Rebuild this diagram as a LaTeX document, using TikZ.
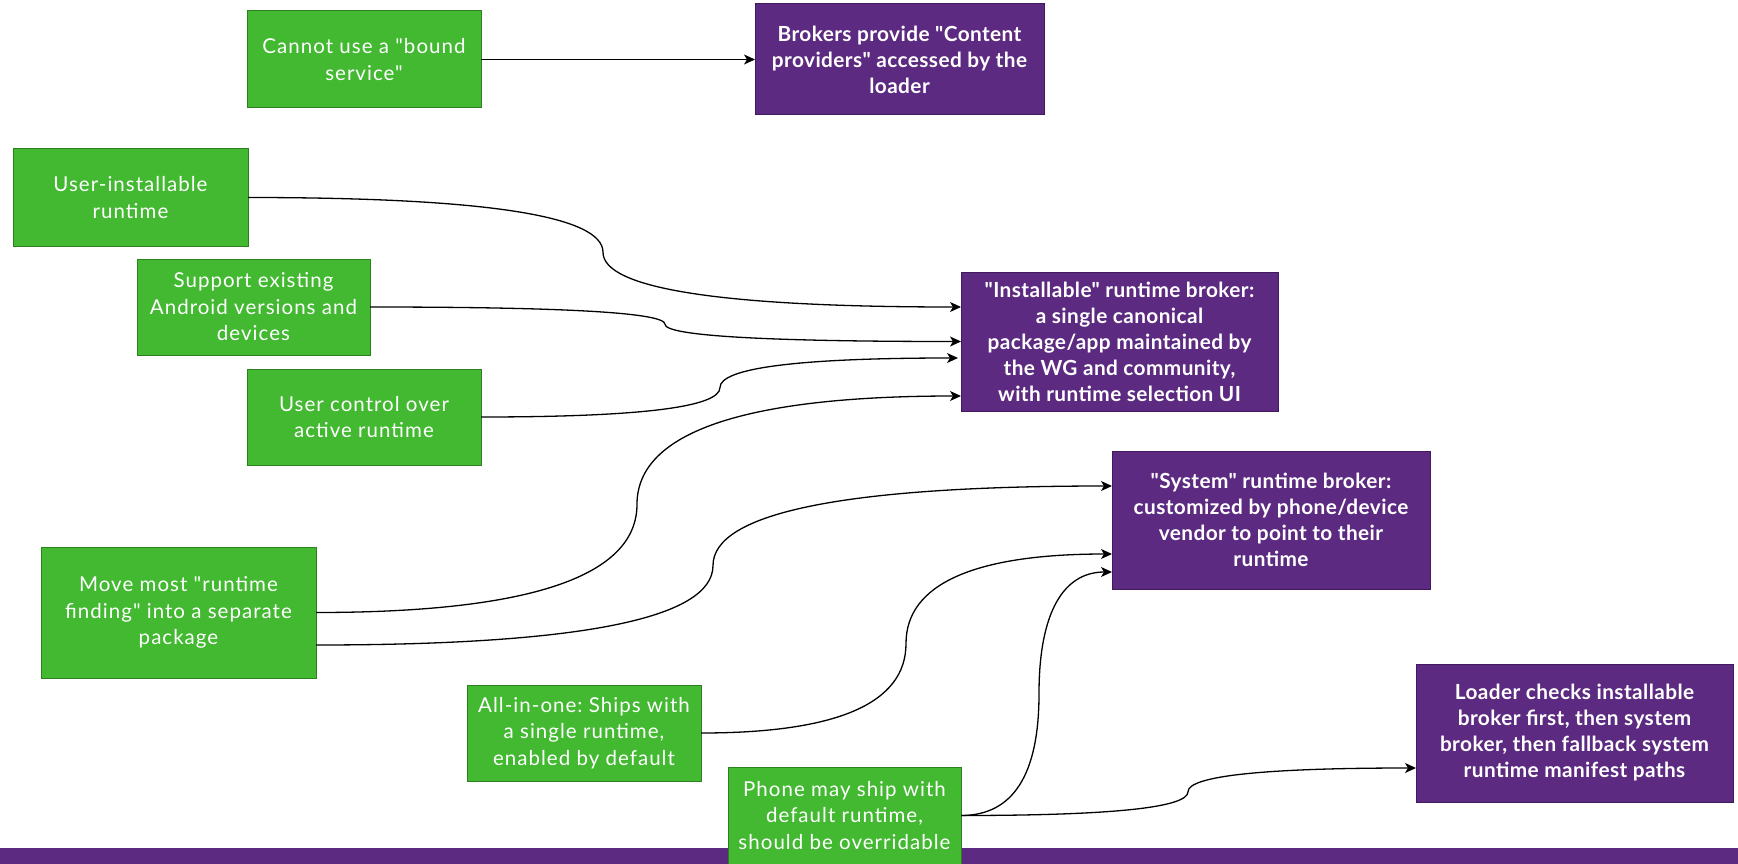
\documentclass[tikz,border=0pt]{standalone}
\usepackage{fontspec}
\setmainfont{Lato}[Ligatures=TeXOff]
\newfontfamily\gfont{Lato}[LetterSpace=5,Ligatures=TeXOff]
\newfontfamily\pfont{Lato}[LetterSpace=2,Ligatures=TeXOff]
\usetikzlibrary{arrows.meta,calc}
\definecolor{gfill}{RGB}{66,185,49}
\definecolor{gline}{RGB}{45,128,32}
\definecolor{pfill}{RGB}{92,42,128}
\definecolor{pline}{RGB}{64,26,92}
\tikzset{
  gbox/.style={draw=gline,fill=gfill,line width=1pt,text=white,align=center,
    outer sep=0pt,inner sep=2pt,font={\frenchspacing\gfont\fontsize{20.5}{26.5}\selectfont}},
  pbox/.style={draw=pline,fill=pfill,line width=1pt,text=white,align=center,
    outer sep=0pt,inner sep=2pt,font={\frenchspacing\pfont\fontsize{20.8}{26}\selectfont\bfseries}},
  edge/.style={draw=black,line width=1.3pt,-{Stealth[length=11pt,width=10pt,inset=3pt]}}
}
\newcommand\cedge[3]{%
  \draw[edge] let \p1=(#1), \p2=(#2), \n1={#3}, \n2={0.5*(\y1+\y2)} in
  (\p1) .. controls ({\x1+2/3*(\n1pt-\x1)},\y1) and (\n1pt,{\n2+2/3*(\y1-\n2)}) .. (\n1pt,\n2)
  .. controls (\n1pt,{\n2+2/3*(\y2-\n2)}) and ({\x2+2/3*(\n1pt-\x2)},\y2) .. (\p2);}
\begin{document}
\begin{tikzpicture}[x=1pt,y=-1pt]
\useasboundingbox (0,0) rectangle (1738,864);
\fill[white] (0,0) rectangle (1738,864);
\fill[pfill] (0,848) rectangle (1738,866);
\node[gbox,minimum width=234pt,minimum height=97pt] (A) at (364,59.5) {Cannot use a "bound\\service"};
\node[pbox,minimum width=289pt,minimum height=111pt] (B) at (899.5,59.5) {Brokers provide "Content\\providers" accessed by the\\loader};
\node[gbox,minimum width=235pt,minimum height=97pt] (UI) at (130.5,197.5) {User-installable\\runtime};
\node[gbox,minimum width=233pt,minimum height=96pt] (SE) at (253.5,307) {Support existing\\Android versions and\\devices};
\node[gbox,minimum width=234pt,minimum height=96pt] (UC) at (364,417) {User control over\\active runtime};
\node[pbox,minimum width=317pt,minimum height=139pt] (IB) at (1119.5,341.5) {"Installable" runtime broker:\\a single canonical\\package/app maintained by\\the WG and community,\\with runtime selection UI};
\node[pbox,minimum width=318pt,minimum height=138pt] (SB) at (1271,520) {"System" runtime broker:\\customized by phone/device\\vendor to point to their\\runtime};
\node[gbox,minimum width=275pt,minimum height=131pt] (MM) at (178.5,612.5) {Move most "runtime\\finding" into a separate\\package};
\node[gbox,minimum width=234pt,minimum height=96pt] (AO) at (584,733) {All-in-one: Ships with\\a single runtime,\\enabled by default};
\node[gbox,minimum width=233pt,minimum height=97pt] (PH) at (844.5,815.5) {Phone may ship with\\default runtime,\\should be overridable};
\node[pbox,minimum width=317pt,minimum height=138pt] (LD) at (1574.5,733) {Loader checks installable\\broker first, then system\\broker, then fallback system\\runtime manifest paths};
\coordinate (IB1) at ([yshift=34.5pt]IB.west);
\coordinate (IB2) at ([yshift=0pt]IB.west);
\coordinate (IB3) at ([xshift=-3pt,yshift=-16.5pt]IB.west);
\coordinate (IB4) at ([yshift=-54.5pt]IB.west);
\coordinate (SB1) at ([yshift=34pt]SB.west);
\coordinate (SB2) at ([yshift=-34pt]SB.west);
\coordinate (SB3) at ([yshift=-52pt]SB.west);
\coordinate (MM2) at ([yshift=-32.5pt]MM.east);
\coordinate (LD1) at ([yshift=-35pt]LD.west);
\draw[edge] (A) -- (B);
\cedge{UI.east}{IB1}{603}
\cedge{SE.east}{IB2}{665}
\cedge{UC.east}{IB3}{720}
\cedge{MM.east}{IB4}{637}
\cedge{MM2}{SB1}{713}
\cedge{AO.east}{SB2}{906}
\cedge{PH.east}{SB3}{1039}
\cedge{PH.east}{LD1}{1188}
\end{tikzpicture}
\end{document}
